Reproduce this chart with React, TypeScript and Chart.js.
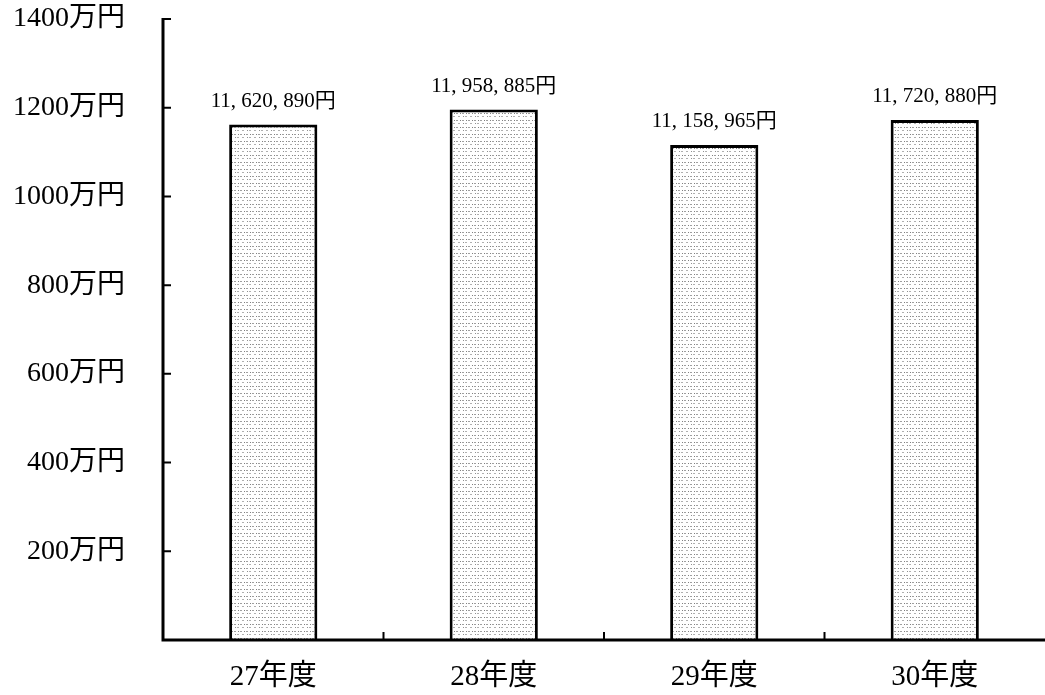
import React, { useEffect, useRef } from "react";
import { Chart, registerables } from "chart.js";

Chart.register(...registerables);

const categories = ["27年度", "28年度", "29年度", "30年度"];
const values = [11620890, 11958885, 11158965, 11720880];
const valueLabels = ["11, 620, 890円", "11, 958, 885円", "11, 158, 965円", "11, 720, 880円"];
const yTickValues = [0, 2000000, 4000000, 6000000, 8000000, 10000000, 12000000, 14000000];
const yTickLabels = ["", "200万円", "400万円", "600万円", "800万円", "1000万円", "1200万円", "1400万円"];

const FONT = '"Liberation Serif", "DejaVu Serif", "Noto Sans CJK JP", serif';

function makePattern(): CanvasPattern | string {
  const c = document.createElement("canvas");
  c.width = 12;
  c.height = 7;
  const g = c.getContext("2d");
  if (!g) return "#ddd";
  g.fillStyle = "#ffffff";
  g.fillRect(0, 0, 12, 7);
  g.fillStyle = "#a0a0a0";
  g.fillRect(0, 1, 2, 1);
  g.fillStyle = "#808080";
  g.fillRect(4, 1, 1, 1);
  g.fillStyle = "#a0a0a0";
  g.fillRect(6, 1, 2, 1);
  g.fillStyle = "#808080";
  g.fillRect(10, 1, 1, 1);
  g.fillStyle = "#b0b0b0";
  g.fillRect(2, 4, 2, 1);
  g.fillStyle = "#909090";
  g.fillRect(7, 4, 1, 1);
  g.fillStyle = "#b0b0b0";
  g.fillRect(9, 4, 2, 1);
  const p = g.createPattern(c, "repeat");
  return p || "#ddd";
}

const axisPlugin = {
  id: "customAxes",
  afterDatasetsDraw(chart: any) {
    const ctx = chart.ctx;
    const { left, right, top, bottom } = chart.chartArea;
    const y = chart.scales.y;
    const x = chart.scales.x;
    ctx.save();
    ctx.strokeStyle = "#000";
    ctx.lineWidth = 3;
    ctx.beginPath();
    ctx.moveTo(left, top - 1);
    ctx.lineTo(left, bottom + 1.5);
    ctx.moveTo(left - 1.5, bottom);
    ctx.lineTo(right, bottom);
    ctx.stroke();
    ctx.lineWidth = 2;
    ctx.beginPath();
    yTickValues.forEach((v) => {
      if (v === 0) return;
      const py = y.getPixelForValue(v);
      ctx.moveTo(left, py);
      ctx.lineTo(left + 8, py);
    });
    for (let i = 1; i < categories.length; i++) {
      const px = (x.getPixelForValue(i - 1) + x.getPixelForValue(i)) / 2;
      ctx.moveTo(px, bottom);
      ctx.lineTo(px, bottom - 8);
    }
    ctx.stroke();
    ctx.fillStyle = "#000";
    ctx.font = "21px " + FONT;
    ctx.textAlign = "center";
    ctx.textBaseline = "alphabetic";
    const meta = chart.getDatasetMeta(0);
    meta.data.forEach((bar: any, i: number) => {
      ctx.fillText(valueLabels[i], bar.x, bar.y - 18);
    });
    ctx.restore();
  },
};

export default function App() {
  const ref = useRef<HTMLCanvasElement>(null);
  useEffect(() => {
    document.body.style.margin = "0";
    const canvas = ref.current;
    if (!canvas) return;
    const chart = new Chart(canvas, {
      type: "bar",
      data: {
        labels: categories,
        datasets: [
          {
            data: values,
            backgroundColor: makePattern() as any,
            borderColor: "#000",
            borderWidth: 3,
            barPercentage: 0.4,
            categoryPercentage: 1,
          },
        ],
      },
      options: {
        animation: false,
        responsive: false,
        maintainAspectRatio: false,
        layout: { padding: { top: 19, right: 0, left: 0, bottom: 0 } },
        plugins: { legend: { display: false }, tooltip: { enabled: false } },
        scales: {
          x: {
            grid: { display: false, drawTicks: false },
            border: { display: false },
            ticks: {
              color: "#000",
              font: { family: FONT, size: 29 },
              padding: 20,
            },
            afterFit: (s: any) => {
              s.height = 55;
              s.paddingLeft = 0;
              s.paddingRight = 0;
            },
          },
          y: {
            min: 0,
            max: 14000000,
            grid: { display: false, drawTicks: false },
            border: { display: false },
            afterBuildTicks: (s: any) => {
              s.ticks = yTickValues.map((v) => ({ value: v }));
            },
            ticks: {
              color: "#000",
              font: { family: FONT, size: 28 },
              padding: 38,
              callback: (v: any) => {
                const i = yTickValues.indexOf(Number(v));
                return i >= 0 ? yTickLabels[i] : "";
              },
            },
            afterFit: (s: any) => {
              s.width = 163;
              s.paddingTop = 0;
              s.paddingBottom = 0;
            },
          },
        },
      },
      plugins: [axisPlugin],
    });
    return () => chart.destroy();
  }, []);
  return (
    <div style={{ position: "absolute", left: 0, top: 0, width: 1045, height: 695 }}>
      <canvas ref={ref} width={1045} height={695} style={{ width: 1045, height: 695 }} />
    </div>
  );
}
